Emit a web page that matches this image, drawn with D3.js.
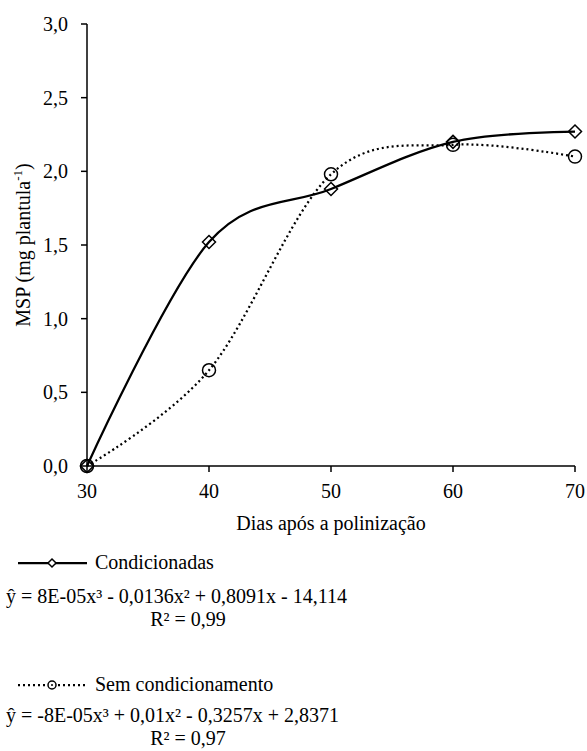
<!DOCTYPE html>
<html>
    <head>
        <meta charset="utf-8">
        <script src="https://cdn.jsdelivr.net/npm/d3@7"></script>
        <style>
            body{ margin:0; background:white; }
            text{
                font-family:'Liberation Serif','Tinos','DejaVu Serif',serif;
                font-size:20px;
                fill:black;
            }
            .axis{ stroke:black; stroke-width:1.5; fill:none; }
            .cond{ stroke:black; stroke-width:2.25; fill:none; }
            .sem{ stroke:black; stroke-width:2.25; fill:none; stroke-dasharray:2,3; }
            .marker{ stroke:black; stroke-width:1.5; fill:none; }
        </style>
    </head>
    <body>
        <script>
            // data
            let days = [30, 40, 50, 60, 70]
            let condicionadas = [0, 1.52, 1.88, 2.20, 2.27]
            let semCondicionamento = [0, 0.65, 1.98, 2.18, 2.10]
            let yTicks = [0, 0.5, 1.0, 1.5, 2.0, 2.5, 3.0]
            let xTicks = [30, 40, 50, 60, 70]

            let w = 587
            let h = 751
            let svg = d3.select("body").append("svg")
                        .attr("width", w)
                        .attr("height", h)

            let x = d3.scaleLinear().domain([30, 70]).range([87, 575])
            let y = d3.scaleLinear().domain([0, 3]).range([466, 24])
            let fmt = d => d3.format(".1f")(d).replace(".", ",")

            // axes
            svg.append("line").attr("class","axis")
                .attr("x1", x(30)).attr("x2", x(30)).attr("y1", y(3)).attr("y2", y(0))
            svg.append("line").attr("class","axis")
                .attr("x1", x(30)).attr("x2", x(70)).attr("y1", y(0)).attr("y2", y(0))
            for (let t of yTicks){
                svg.append("line").attr("class","axis")
                    .attr("x1", x(30)-6).attr("x2", x(30)).attr("y1", y(t)).attr("y2", y(t))
                svg.append("text")
                    .attr("x", 68).attr("y", y(t)+7)
                    .attr("text-anchor","end")
                    .text(fmt(t))
            }
            for (let t of xTicks){
                svg.append("line").attr("class","axis")
                    .attr("x1", x(t)).attr("x2", x(t)).attr("y1", y(0)).attr("y2", y(0)+6)
                svg.append("text")
                    .attr("x", x(t)).attr("y", 498)
                    .attr("text-anchor","middle")
                    .text(t)
            }
            svg.append("text")
                .attr("x", x(50)).attr("y", 530)
                .attr("text-anchor","middle")
                .text("Dias após a polinização")
            let yt = svg.append("text")
                .attr("transform","translate(30,"+((y(0)+y(3))/2)+") rotate(-90)")
                .attr("text-anchor","middle")
            yt.append("tspan").text("MSP (mg plantula")
            yt.append("tspan").style("font-size","13px").attr("dy",-8).text("-1")
            yt.append("tspan").attr("dy",8).text(")")

            // series
            let line = d3.line()
                .x((d,i)=>x(days[i]))
                .y(d=>y(d))
                .curve(d3.curveCatmullRom.alpha(0))
            svg.append("path").datum(condicionadas).attr("class","cond").attr("d", line)
            svg.append("path").datum(semCondicionamento).attr("class","sem").attr("d", line)

            let diamond = (cx, cy, r) => "M"+cx+","+(cy-r)+"L"+(cx+r)+","+cy+"L"+cx+","+(cy+r)+"L"+(cx-r)+","+cy+"Z"
            condicionadas.forEach((v,i)=>{
                svg.append("path").attr("class","marker")
                    .attr("d", diamond(x(days[i]), y(v), 6.5))
            })
            semCondicionamento.forEach((v,i)=>{
                svg.append("circle").attr("class","marker")
                    .attr("cx", x(days[i])).attr("cy", y(v)).attr("r", 6.5)
            })

            // legend + equations
            svg.append("line").attr("class","cond").attr("x1",18).attr("x2",87).attr("y1",563).attr("y2",563)
            svg.append("path").attr("class","marker").style("fill","white")
                .attr("d", diamond(52, 563, 4))
            svg.append("text").attr("x",95).attr("y",569).text("Condicionadas")
            svg.append("text").attr("x",6).attr("y",603).text("ŷ = 8E-05x³ - 0,0136x² + 0,8091x - 14,114")
            svg.append("text").attr("x",188).attr("y",626).attr("text-anchor","middle").text("R² = 0,99")

            svg.append("line").attr("class","sem").attr("x1",18).attr("x2",87).attr("y1",685).attr("y2",685)
            svg.append("circle").attr("class","marker").style("fill","white")
                .attr("cx",52).attr("cy",685).attr("r",4)
            svg.append("circle").attr("cx",52).attr("cy",685).attr("r",1).attr("fill","black")
            svg.append("text").attr("x",95).attr("y",691).text("Sem condicionamento")
            svg.append("text").attr("x",6).attr("y",722).text("ŷ = -8E-05x³ + 0,01x² - 0,3257x + 2,8371")
            svg.append("text").attr("x",188).attr("y",745).attr("text-anchor","middle").text("R² = 0,97")
        </script>
    </body>
</html>
